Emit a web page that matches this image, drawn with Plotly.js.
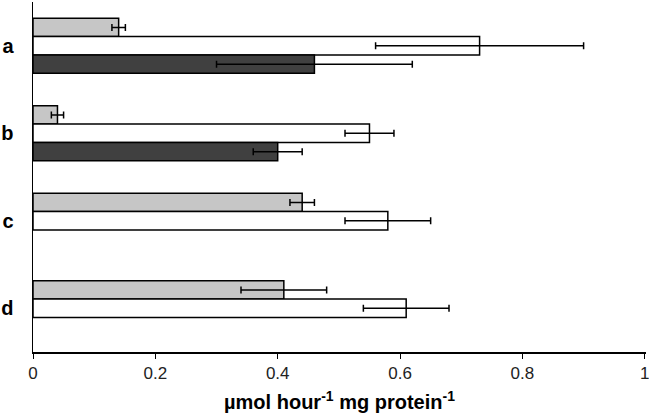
<!DOCTYPE html>
<html>
<head>
<meta charset="utf-8">
<script src="https://cdn.plot.ly/plotly-3.0.1.min.js"></script>
<style>html,body{margin:0;padding:0;background:#fff;}#chart{width:649px;height:416px;}</style>
</head>
<body>
<div id="chart"></div>
<script>
var categories = ['a', 'b', 'c', 'd'];
var lightValues = [0.14, 0.04, 0.44, 0.41];
var lightErrors = [0.011, 0.01, 0.02, 0.07];
var whiteValues = [0.73, 0.55, 0.58, 0.61];
var whiteErrors = [0.17, 0.04, 0.07, 0.07];
var darkValues = [0.46, 0.40, null, null];
var darkErrors = [0.16, 0.04, null, null];
var xTicks = [0, 0.2, 0.4, 0.6, 0.8, 1];
var xTickLabels = ['0', '0.2', '0.4', '0.6', '0.8', '1'];

function series(vals, errs, color) {
  return {
    type: 'bar', orientation: 'h',
    y: categories, x: vals,
    marker: {color: color, line: {color: '#000', width: 1.5}},
    error_x: {type: 'data', array: errs, visible: true, color: '#000', thickness: 1.5, width: 3.5},
    hoverinfo: 'none'
  };
}

var data = [
  series(lightValues, lightErrors, '#c6c6c6'),
  series(whiteValues, whiteErrors, '#ffffff'),
  series(darkValues, darkErrors, '#404040')
];

var layout = {
  width: 649, height: 416,
  margin: {l: 33, r: 3, t: 2, b: 64},
  paper_bgcolor: '#fff', plot_bgcolor: '#fff',
  barmode: 'group', bargap: 0.37, bargroupgap: 0,
  showlegend: false,
  font: {family: 'Liberation Sans, Arial, sans-serif', color: '#222'},
  xaxis: {
    range: [0, 1.002], tickvals: xTicks, ticktext: xTickLabels,
    showgrid: false, zeroline: false,
    showline: true, linecolor: '#000', linewidth: 1.5,
    ticks: 'outside', ticklen: 5, tickcolor: '#000', tickwidth: 1,
    ticklabeloverflow: 'allow',
    tickfont: {size: 17, color: '#222'},
    title: {text: 'µmol hour<sup>-1</sup> mg protein<sup>-1</sup>', font: {size: 20, color: '#000', family: 'Liberation Sans, Arial, sans-serif', weight: 'bold'}, standoff: 13}
  },
  yaxis: {
    type: 'category', autorange: 'reversed',
    showgrid: false, zeroline: false,
    showline: true, linecolor: '#000', linewidth: 1.5,
    ticks: '', ticklabelstandoff: 14,
    tickfont: {size: 20, color: '#000', weight: 'bold'}
  }
};

Plotly.newPlot('chart', data, layout, {displayModeBar: false, staticPlot: true});
</script>
</body>
</html>
